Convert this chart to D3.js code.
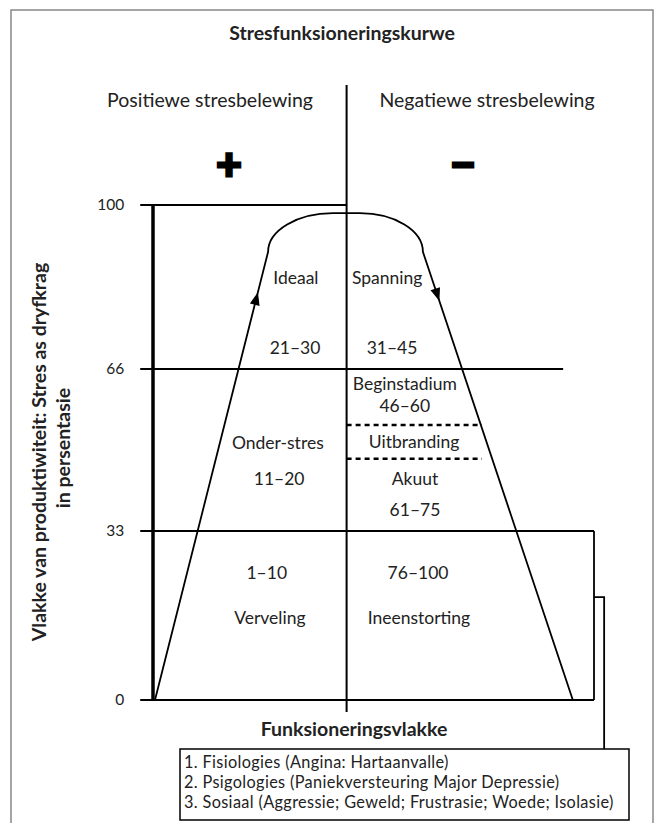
<!DOCTYPE html>
<html>
<head>
<meta charset="utf-8">
<script src="https://cdn.jsdelivr.net/npm/d3@7"></script>
<style>
  body { margin: 0; background: #fff; }
  text { font-family: Lato, "Open Sans", sans-serif; fill: #222; }
</style>
</head>
<body>
<div id="chart"></div>
<script>
const WIDTH = 660;
const HEIGHT = 823;

// productivity levels (y, percent) and tick labels
const yLevels = [0, 33, 66, 100];
const yTickLabels = ['0', '33', '66', '100'];

// where each level line stops on the functioning scale (x, 0..100)
const levelLineEnds = [100, 100, 93, 43.9];
const levelLineStart = -2.9;

const centreX = 43.9;

// stress curve: bottom-left, left shoulder, top start, top end, right shoulder, bottom-right
const curveX = [0.45, 26.1, 40.8, 46.9, 61.2, 95.2];
const curveY = [0, 90.3, 98.3, 98.3, 90.3, 0];

// arrowheads, as fraction along the rising and the falling leg
const arrowAt = [0.91, 0.11];

// burnout band (dotted lines)
const burnoutDashY = [54.6, 47.7];
const burnoutDashEnd = 74.6;

// bracket linking the lower band to the list of consequences
const bracketX = [100, 102.3];
const bracketStubY = 20.1;

const sideTitles = ['Positiewe stresbelewing', 'Negatiewe stresbelewing'];
const sideSigns = ['+', '\u2212'];

const zoneNames = [
  'Ideaal', '21–30', 'Onder-stres', '11–20', '1–10', 'Verveling',
  'Spanning', '31–45', 'Beginstadium', '46–60', 'Uitbranding', 'Akuut', '61–75', '76–100', 'Ineenstorting'
];
const zoneX = [32.4, 32.2, 28.3, 28.6, 25.8, 26.5, 53.1, 54.2, 57.1, 57.1, 59.2, 59.4, 59.4, 60.1, 60.3];
const zoneY = [84.9, 70.4, 50.9, 43.6, 24.8, 16.0, 84.9, 70.4, 63.1, 58.5, 51.1, 43.6, 37.3, 24.8, 16.0];

const consequences = [
  '1. Fisiologies (Angina: Hartaanvalle)',
  '2. Psigologies (Paniekversteuring Major Depressie)',
  '3. Sosiaal (Aggressie; Geweld; Frustrasie; Woede; Isolasie)'
];

const svg = d3.select('#chart').append('svg')
  .attr('width', WIDTH)
  .attr('height', HEIGHT);

const x = d3.scaleLinear().domain([0, 100]).range([153, 594]);
const y = d3.scaleLinear().domain(yLevels).range([700, 531, 369, 205]);

// outer frame
svg.append('rect')
  .attr('x', 11).attr('y', 10)
  .attr('width', 642).attr('height', 840)
  .attr('fill', 'none')
  .attr('stroke', '#888')
  .attr('stroke-width', 1.5);

svg.append('text')
  .attr('x', 342).attr('y', 33).attr('dy', '0.36em')
  .attr('text-anchor', 'middle')
  .attr('font-size', 19.5).attr('font-weight', 'bold')
  .text('Stresfunksioneringskurwe');

// side headings and signs
svg.selectAll('.side')
  .data(sideTitles)
  .join('text')
  .attr('class', 'side')
  .attr('x', (d, i) => [210, 487][i])
  .attr('y', 100).attr('dy', '0.36em')
  .attr('text-anchor', 'middle')
  .attr('font-size', 19.5)
  .text(d => d);

svg.selectAll('.sign')
  .data(sideSigns)
  .join('text')
  .attr('class', 'sign')
  .attr('x', (d, i) => [229, 463][i])
  .attr('y', 167).attr('dy', '0.3em')
  .attr('text-anchor', 'middle')
  .attr('font-size', 44).attr('font-weight', 'bold')
  .attr('stroke', '#000').attr('stroke-width', 3)
  .style('fill', '#000')
  .text(d => d);

// centre divider
svg.append('line')
  .attr('x1', x(centreX)).attr('x2', x(centreX))
  .attr('y1', 85).attr('y2', 712)
  .attr('stroke', '#000').attr('stroke-width', 2);

// level lines
svg.append('g')
  .selectAll('line')
  .data(yLevels)
  .join('line')
  .attr('x1', x(levelLineStart))
  .attr('x2', (d, i) => x(levelLineEnds[i]))
  .attr('y1', d => y(d)).attr('y2', d => y(d))
  .attr('stroke', '#000').attr('stroke-width', 2);

// tick labels
svg.append('g')
  .attr('transform', `translate(${x(levelLineStart)},0)`)
  .call(d3.axisLeft(y).tickValues(yLevels)
    .tickFormat((d, i) => yTickLabels[i])
    .tickSize(0).tickPadding(16))
  .call(g => g.select('.domain').remove())
  .attr('font-family', null)
  .attr('font-size', null)
  .selectAll('text')
  .attr('font-size', 15.5)
  .style('fill', '#222');

// thick productivity axis
svg.append('line')
  .attr('x1', x(0)).attr('x2', x(0))
  .attr('y1', y(0)).attr('y2', y(100))
  .attr('stroke', '#000').attr('stroke-width', 3.5);

// y axis title
const yTitle = svg.append('g');
yTitle.append('text')
  .attr('transform', 'translate(39,452) rotate(-90)')
  .attr('dy', '0.36em')
  .attr('text-anchor', 'middle')
  .attr('font-size', 19.5).attr('font-weight', 'bold')
  .text('Vlakke van produktiwiteit: Stres as dryfkrag');
yTitle.append('text')
  .attr('transform', 'translate(63,448) rotate(-90)')
  .attr('dy', '0.36em')
  .attr('text-anchor', 'middle')
  .attr('font-size', 19.5).attr('font-weight', 'bold')
  .text('in persentasie');

// stress curve
const pts = curveX.map((d, i) => [x(d), y(curveY[i])]);
const k = 0.55;
const path = d3.path();
path.moveTo(pts[0][0], pts[0][1]);
path.lineTo(pts[1][0], pts[1][1]);
path.bezierCurveTo(
  pts[1][0], pts[1][1] - k * (pts[1][1] - pts[2][1]),
  pts[2][0] - k * (pts[2][0] - pts[1][0]), pts[2][1],
  pts[2][0], pts[2][1]);
path.lineTo(pts[3][0], pts[3][1]);
path.bezierCurveTo(
  pts[3][0] + k * (pts[4][0] - pts[3][0]), pts[3][1],
  pts[4][0], pts[4][1] - k * (pts[4][1] - pts[3][1]),
  pts[4][0], pts[4][1]);
path.lineTo(pts[5][0], pts[5][1]);

svg.append('path')
  .attr('d', path.toString())
  .attr('fill', 'none')
  .attr('stroke', '#000').attr('stroke-width', 1.8);

// arrowheads on the legs
const legs = [[pts[0], pts[1]], [pts[4], pts[5]]];
svg.append('g')
  .selectAll('path')
  .data(legs)
  .join('path')
  .attr('d', (leg, i) => {
    const [a, b] = leg;
    const dx = b[0] - a[0], dy = b[1] - a[1];
    const len = Math.hypot(dx, dy);
    const ux = dx / len, uy = dy / len;
    const t = arrowAt[i];
    const tip = [a[0] + t * dx, a[1] + t * dy];
    const L = 13, W = 5;
    const bx = tip[0] - ux * L, by = tip[1] - uy * L;
    return `M${tip[0]},${tip[1]}L${bx - uy * W},${by + ux * W}L${bx + uy * W},${by - ux * W}Z`;
  })
  .attr('fill', '#000');

// burnout dotted lines
svg.append('g')
  .selectAll('line')
  .data(burnoutDashY)
  .join('line')
  .attr('x1', x(centreX)).attr('x2', x(burnoutDashEnd))
  .attr('y1', d => y(d)).attr('y2', d => y(d))
  .attr('stroke', '#000').attr('stroke-width', 2.5)
  .attr('stroke-dasharray', '5,4');

// zone labels
svg.append('g')
  .selectAll('text')
  .data(zoneNames)
  .join('text')
  .attr('x', (d, i) => x(zoneX[i]))
  .attr('y', (d, i) => y(zoneY[i]))
  .attr('dy', '0.36em')
  .attr('text-anchor', 'middle')
  .attr('font-size', 17.5)
  .text(d => d);

// bracket to the consequences box
const boxX = 180, boxY = 749, boxW = 449, boxH = 71;
svg.append('path')
  .attr('d', `M${x(bracketX[0])},${y(33)}V${y(0)}`
    + `M${x(bracketX[0])},${y(bracketStubY)}H${x(bracketX[1])}V${boxY}`)
  .attr('fill', 'none')
  .attr('stroke', '#000').attr('stroke-width', 1.8);

svg.append('text')
  .attr('x', 354).attr('y', 729).attr('dy', '0.36em')
  .attr('text-anchor', 'middle')
  .attr('font-size', 19.5).attr('font-weight', 'bold')
  .text('Funksioneringsvlakke');

svg.append('rect')
  .attr('x', boxX).attr('y', boxY)
  .attr('width', boxW).attr('height', boxH)
  .attr('fill', '#fff')
  .attr('stroke', '#000').attr('stroke-width', 1.5);

svg.append('g')
  .selectAll('text')
  .data(consequences)
  .join('text')
  .attr('x', boxX + 4)
  .attr('y', (d, i) => boxY + 19 + i * 20)
  .attr('font-size', 16.3)
  .attr('letter-spacing', 0.35)
  .text(d => d);
</script>
</body>
</html>
